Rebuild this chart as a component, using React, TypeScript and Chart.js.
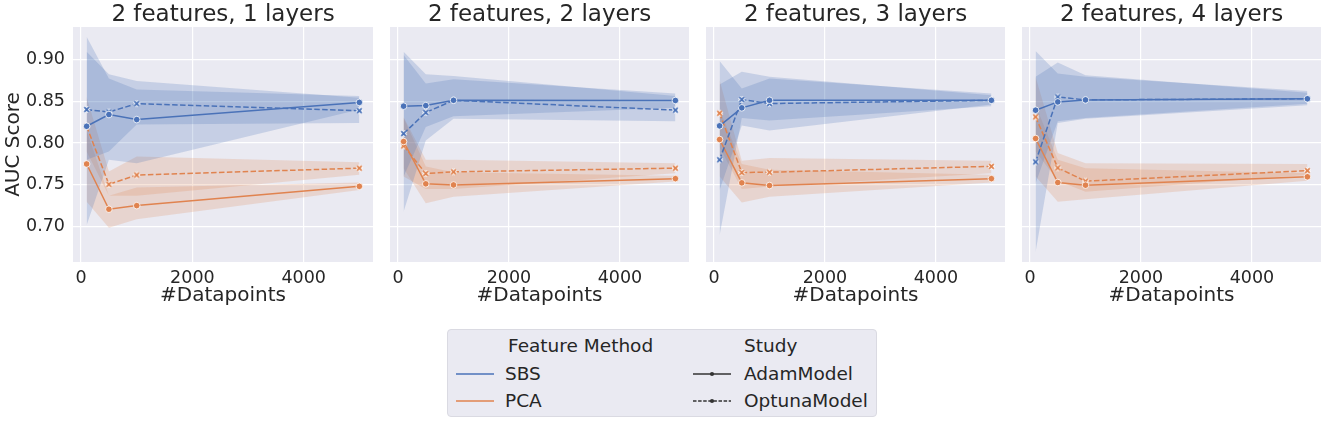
import { useEffect, useRef } from "react";
import { Chart, registerables } from "chart.js";

Chart.register(...registerables);

const DATAPOINTS = [100, 500, 1000, 5000];
const PANEL_TITLES = [
  "2 features, 1 layers",
  "2 features, 2 layers",
  "2 features, 3 layers",
  "2 features, 4 layers",
];
const X_TICKS = [0, 2000, 4000];
const Y_TICKS = [0.7, 0.75, 0.8, 0.85, 0.9];

const METHODS = ["SBS", "PCA"];
const STUDIES = ["AdamModel", "OptunaModel"];

// one row per panel, one value per datapoint count
const sbsAdamMean = [
  [0.82, 0.834, 0.828, 0.8485],
  [0.844, 0.8447, 0.851, 0.8508],
  [0.8205, 0.842, 0.851, 0.851],
  [0.8392, 0.8491, 0.8515, 0.8528],
];
const sbsAdamLow = [
  [0.702, 0.78, 0.776, 0.84],
  [0.76, 0.819, 0.832, 0.842],
  [0.744, 0.821, 0.815, 0.846],
  [0.752, 0.826, 0.83, 0.847],
];
const sbsAdamHigh = [
  [0.927, 0.877, 0.864, 0.856],
  [0.905, 0.871, 0.876, 0.859],
  [0.87, 0.885, 0.879, 0.857],
  [0.879, 0.896, 0.881, 0.86],
];

const sbsOptunaMean = [
  [0.84, 0.837, 0.847, 0.8386],
  [0.8113, 0.8364, 0.851, 0.8393],
  [0.78, 0.8519, 0.8471, 0.851],
  [0.7775, 0.855, 0.8515, 0.8528],
];
const sbsOptunaLow = [
  [0.78, 0.79, 0.822, 0.824],
  [0.718, 0.803, 0.829, 0.826],
  [0.69, 0.83, 0.827, 0.844],
  [0.67, 0.824, 0.829, 0.845],
];
const sbsOptunaHigh = [
  [0.909, 0.882, 0.874, 0.854],
  [0.909, 0.882, 0.88, 0.856],
  [0.898, 0.865, 0.877, 0.859],
  [0.91, 0.883, 0.879, 0.862],
];

const pcaAdamMean = [
  [0.775, 0.721, 0.7253, 0.7483],
  [0.8018, 0.7513, 0.75, 0.7575],
  [0.8042, 0.7525, 0.7493, 0.7575],
  [0.8054, 0.7529, 0.7497, 0.7597],
];
const pcaAdamLow = [
  [0.73, 0.699, 0.709, 0.744],
  [0.77, 0.728, 0.736, 0.754],
  [0.76, 0.729, 0.736, 0.753],
  [0.76, 0.73, 0.733, 0.755],
];
const pcaAdamHigh = [
  [0.815, 0.737, 0.747, 0.753],
  [0.83, 0.772, 0.765, 0.761],
  [0.84, 0.775, 0.768, 0.762],
  [0.845, 0.78, 0.77, 0.764],
];

const pcaOptunaMean = [
  [0.82, 0.7507, 0.7618, 0.77],
  [0.7966, 0.7636, 0.7656, 0.77],
  [0.8356, 0.7648, 0.7652, 0.7722],
  [0.8312, 0.7704, 0.7545, 0.767],
];
const pcaOptunaLow = [
  [0.79, 0.737, 0.737, 0.762],
  [0.76, 0.745, 0.745, 0.764],
  [0.795, 0.745, 0.748, 0.764],
  [0.79, 0.755, 0.742, 0.762],
];
const pcaOptunaHigh = [
  [0.855, 0.766, 0.784, 0.777],
  [0.831, 0.78, 0.78, 0.776],
  [0.875, 0.779, 0.782, 0.779],
  [0.879, 0.788, 0.776, 0.775],
];

const FONT = "'DejaVu Sans', sans-serif";
const TEXT = "#262626";
const FACE = "#eaeaf2";
const BLUE = "#4a72b8";
const ORANGE = "#e0834f";
const BLUE_BAND = "rgba(74,114,184,0.22)";
const ORANGE_BAND = "rgba(224,131,79,0.21)";

// plot area placement of each panel on the page; axis = side margin kept in the canvas
const PANELS = [
  { left: 73, width: 300, axis: 73, showY: true },
  { left: 390, width: 299, axis: 12, showY: false },
  { left: 706, width: 299, axis: 12, showY: false },
  { left: 1022, width: 299, axis: 12, showY: false },
];
const CANVAS_H = 320;

function makeCross(color: string) {
  const c = document.createElement("canvas");
  c.width = 9;
  c.height = 9;
  const g = c.getContext("2d")!;
  const path = () => {
    g.beginPath();
    g.moveTo(2.2, 2.2);
    g.lineTo(6.8, 6.8);
    g.moveTo(6.8, 2.2);
    g.lineTo(2.2, 6.8);
    g.stroke();
  };
  g.strokeStyle = "#fff";
  g.lineWidth = 3.6;
  path();
  g.strokeStyle = color;
  g.lineWidth = 1.8;
  path();
  return c;
}

const faceplate = {
  id: "faceplate",
  beforeDraw(chart: any) {
    const { ctx, chartArea: a } = chart;
    ctx.save();
    ctx.fillStyle = FACE;
    ctx.fillRect(a.left, a.top, a.right - a.left, a.bottom - a.top);
    ctx.restore();
  },
};

function Panel({ index }: { index: number }) {
  const canvasRef = useRef<HTMLCanvasElement>(null);
  const p = PANELS[index];

  useEffect(() => {
    if (!canvasRef.current) return;
    const series = [
      { mean: sbsAdamMean, low: sbsAdamLow, high: sbsAdamHigh, color: BLUE, band: BLUE_BAND, dashed: false },
      { mean: sbsOptunaMean, low: sbsOptunaLow, high: sbsOptunaHigh, color: BLUE, band: BLUE_BAND, dashed: true },
      { mean: pcaAdamMean, low: pcaAdamLow, high: pcaAdamHigh, color: ORANGE, band: ORANGE_BAND, dashed: false },
      { mean: pcaOptunaMean, low: pcaOptunaLow, high: pcaOptunaHigh, color: ORANGE, band: ORANGE_BAND, dashed: true },
    ];
    const xy = (vals: number[]) => DATAPOINTS.map((x, i) => ({ x, y: vals[i] }));

    const datasets: any[] = [];
    series.forEach((s) => {
      datasets.push({
        data: xy(s.high[index]),
        fill: "+1",
        backgroundColor: s.band,
        borderWidth: 0,
        pointRadius: 0,
      });
      datasets.push({ data: xy(s.low[index]), fill: false, borderWidth: 0, pointRadius: 0 });
    });
    series.forEach((s) => {
      datasets.push({
        data: xy(s.mean[index]),
        fill: false,
        borderColor: s.color,
        borderWidth: 1.5,
        borderDash: s.dashed ? [5.5, 2.4] : [],
        pointStyle: s.dashed ? makeCross(s.color) : "circle",
        pointRadius: 3.3,
        pointBackgroundColor: s.color,
        pointBorderColor: "#fff",
        pointBorderWidth: 0.8,
      });
    });

    const tickFont = { family: FONT, size: 17.5 };
    const labelFont = { family: FONT, size: 20 };

    const chart = new Chart(canvasRef.current, {
      type: "line",
      data: { datasets },
      plugins: [faceplate],
      options: {
        animation: false,
        responsive: false,
        maintainAspectRatio: false,
        layout: { padding: 0 },
        elements: { line: { tension: 0 } },
        plugins: {
          legend: { display: false },
          tooltip: { enabled: false },
          filler: { drawTime: "beforeDatasetsDraw" },
          title: {
            display: true,
            text: PANEL_TITLES[index],
            color: TEXT,
            font: { family: FONT, size: 23, weight: "normal", lineHeight: 1 },
            padding: { top: 4, bottom: 0 },
          },
        },
        scales: {
          x: {
            type: "linear",
            min: -145,
            max: 5245,
            afterBuildTicks: (s: any) => {
              s.ticks = X_TICKS.map((value) => ({ value }));
            },
            afterFit: (s: any) => {
              s.height = CANVAS_H - 262;
            },
            grid: { color: "#ffffff", lineWidth: 1.2, drawTicks: false },
            border: { display: false },
            ticks: {
              color: TEXT,
              font: tickFont,
              padding: 6,
              maxRotation: 0,
              autoSkip: false,
              callback: (v: any) => String(v),
            },
            title: {
              display: true,
              text: "#Datapoints",
              color: TEXT,
              font: labelFont,
              padding: { top: 0, bottom: 12.5 },
            },
          },
          y: {
            type: "linear",
            min: 0.658,
            max: 0.9385,
            afterBuildTicks: (s: any) => {
              s.ticks = Y_TICKS.map((value) => ({ value }));
            },
            afterFit: (s: any) => {
              s.width = p.axis;
            },
            grid: { color: "#ffffff", lineWidth: 1.2, drawTicks: false },
            border: { display: false },
            ticks: {
              display: p.showY,
              color: TEXT,
              font: tickFont,
              padding: 8,
              callback: (v: any) => Number(v).toFixed(2),
            },
            title: {
              display: p.showY,
              text: "AUC Score",
              color: TEXT,
              font: labelFont,
              padding: { top: 2, bottom: 0 },
            },
          },
          // empty mirror of the y axis so the title centres over the plot
          pad: {
            type: "linear",
            position: "right",
            afterFit: (s: any) => {
              s.width = p.axis;
            },
            grid: { display: false },
            border: { display: false },
            ticks: { display: false },
          },
        },
      } as any,
    });
    return () => chart.destroy();
  }, [index]);

  return (
    <canvas
      ref={canvasRef}
      width={p.width + p.axis * 2}
      height={CANVAS_H}
      style={{ position: "absolute", left: p.left - p.axis, top: 0 }}
    />
  );
}

function LegendLine({ color, dashed, marker, left, top }: any) {
  return (
    <svg width={38} height={8} style={{ position: "absolute", left, top: top - 4 }}>
      <line
        x1={0}
        y1={4}
        x2={38}
        y2={4}
        stroke={color}
        strokeWidth={1.3}
        strokeDasharray={dashed ? "3.5 1.6" : undefined}
      />
      {marker && <circle cx={19} cy={4} r={2.1} fill={color} />}
    </svg>
  );
}

function Legend() {
  const rows = [16, 44, 71];
  const text = (s: string, left: number, top: number) => (
    <div
      key={s}
      style={{
        position: "absolute",
        left,
        top: top - 12,
        lineHeight: "24px",
        fontSize: 18.5,
        color: TEXT,
        whiteSpace: "nowrap",
      }}
    >
      {s}
    </div>
  );
  return (
    <div
      style={{
        position: "absolute",
        left: 447,
        top: 329,
        width: 430,
        height: 88,
        background: FACE,
        border: "1px solid #dadae2",
        borderRadius: 4,
        boxSizing: "border-box",
      }}
    >
      {text("Feature Method", 60, rows[0])}
      {text("Study", 296, rows[0])}
      {METHODS.map((m, i) => (
        <div key={m}>
          <LegendLine color={i === 0 ? BLUE : ORANGE} left={8} top={rows[i + 1]} />
          {text(m, 57, rows[i + 1])}
        </div>
      ))}
      {STUDIES.map((s, i) => (
        <div key={s}>
          <LegendLine color="#333333" dashed={i === 1} marker left={245} top={rows[i + 1]} />
          {text(s, 296, rows[i + 1])}
        </div>
      ))}
    </div>
  );
}

export default function App() {
  return (
    <div
      style={{
        position: "absolute",
        left: 0,
        top: 0,
        width: 1325,
        height: 422,
        background: "#fff",
        fontFamily: FONT,
        overflow: "hidden",
      }}
    >
      {PANELS.map((_, i) => (
        <Panel key={i} index={i} />
      ))}
      <Legend />
    </div>
  );
}
